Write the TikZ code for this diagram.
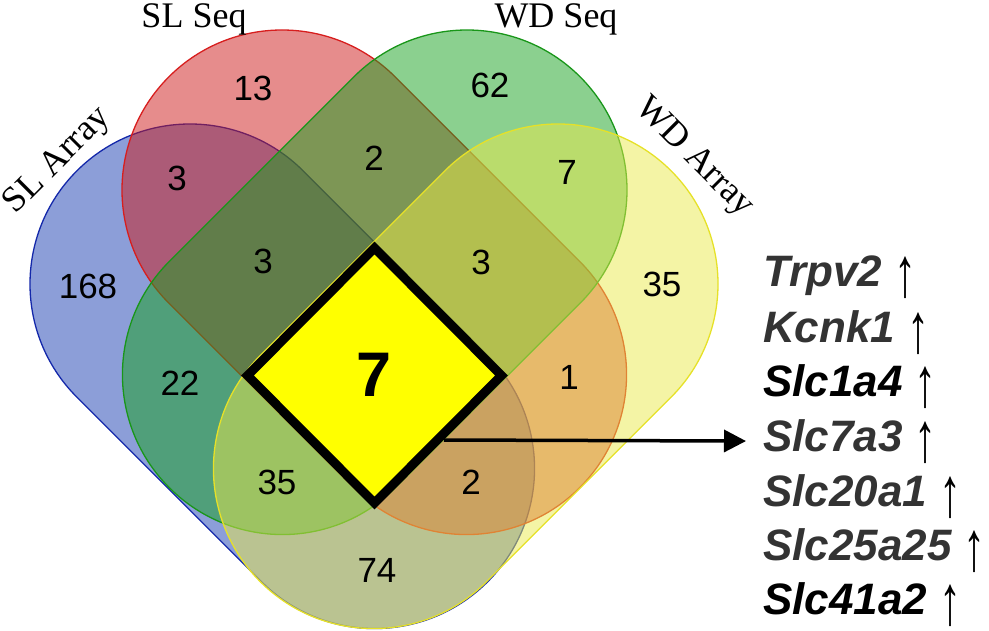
\documentclass[tikz,border=0pt]{standalone}
\usepackage{fontspec}
\usepackage{graphicx}
\setmainfont{Liberation Sans}
\newfontfamily\seriffont{Liberation Serif}
\usetikzlibrary{arrows.meta}
\definecolor{cBlue}{RGB}{25,61,177}
\definecolor{cRed}{RGB}{205,25,25}
\definecolor{cGreen}{RGB}{23,161,31}
\definecolor{cYellow}{RGB}{233,233,75}
\definecolor{eBlue}{RGB}{20,40,170}
\definecolor{eRed}{RGB}{215,30,30}
\definecolor{eGreen}{RGB}{25,150,25}
\definecolor{eYellow}{RGB}{230,225,40}
\definecolor{geneGray}{RGB}{51,51,51}
\definecolor{coreYellow}{RGB}{255,255,0}
\tikzset{
  setshape/.style={fill opacity=0.5, line width=1.3pt},
  num/.style={font=\fontsize{35}{42}\selectfont, inner sep=0pt, text=black},
  setlabel/.style={font=\seriffont\fontsize{36}{43}\selectfont, inner sep=0pt},
  gene/.style={font=\fontsize{44}{50}\selectfont, anchor=base west, inner sep=0pt},
}
\newcommand\upmark{{\color{black}\raisebox{-10pt}{\scalebox{1}[1.6]{↑}}}}
\newcommand\stadiumshape[4]{%
  \begin{scope}[shift={(#1,#2)}, rotate=#3]
    \filldraw[setshape, fill=c#4, draw=e#4]
      (0,160) arc[start angle=90, end angle=270, radius=160pt]
      -- (261,-160) arc[start angle=-90, end angle=90, radius=160pt] -- cycle;
  \end{scope}}
\begin{document}
\begin{tikzpicture}[x=1pt,y=1pt]
\useasboundingbox (0,0) rectangle (989,-631);
% sets
\stadiumshape{190}{-284}{-45}{Blue}
\stadiumshape{282}{-190}{-45}{Red}
\stadiumshape{467}{-190}{-135}{Green}
\stadiumshape{558}{-284}{-135}{Yellow}
% core diamond
\draw[line width=9pt, fill=coreYellow, miter limit=10]
  (374.5,-248) -- (501.5,-375.5) -- (374.5,-503) -- (247.5,-375.5) -- cycle;
\coordinate (arrS) at (444,-440);
% labels
\node[setlabel, anchor=base] (lSLSeq) at (194,-28) {SL Seq};
\node[setlabel, anchor=base] (lWDSeq) at (556,-28) {WD Seq};
\node[setlabel, rotate=45] (lSLArr) at (58,-161) {SL Array};
\node[setlabel, rotate=-45] (lWDArr) at (694,-158) {WD Array};
% numbers
\node[num] (n13) at (253,-88) {13};
\node[num] (n62) at (490,-85) {62};
\node[num] (n3a) at (177,-178) {3};
\node[num] (n2a) at (374,-158) {2};
\node[num] (n7a) at (567,-172) {7};
\node[num] (n168) at (88,-286) {168};
\node[num] (n3b) at (263,-261) {3};
\node[num] (n3c) at (481,-262) {3};
\node[num] (n35a) at (662,-284) {35};
\node[num] (n22) at (180,-383) {22};
\node[num] (n1) at (569,-377) {1};
\node[num] (n35b) at (277,-482) {35};
\node[num] (n2b) at (471,-482) {2};
\node[num] (n74) at (377,-570) {74};
\node[font=\bfseries\fontsize{63}{70}\selectfont, inner sep=0pt] (n7c) at (374,-375) {7};
% genes
\node[gene, text=geneGray] (g1) at (763,-287) {{\bfseries\itshape Trpv2} \upmark};
\node[gene, text=geneGray] (g2) at (763,-342) {{\bfseries\itshape Kcnk1} \upmark};
\node[gene, text=black] (g3) at (763,-396) {{\bfseries\itshape Slc1a4} \upmark};
\node[gene, text=geneGray] (g4) at (763,-451) {{\bfseries\itshape Slc7a3} \upmark};
\node[gene, text=geneGray] (g5) at (763,-506) {{\bfseries\itshape Slc20a1} \upmark};
\node[gene, text=geneGray] (g6) at (763,-560) {{\bfseries\itshape Slc25a25} \upmark};
\node[gene, text=black] (g7) at (763,-614) {{\bfseries\itshape Slc41a2} \upmark};
% arrow
\draw[line width=3.5pt, -{Triangle[length=22pt,width=22pt]}, shorten >=17pt] (arrS) -- (g4.west);
\end{tikzpicture}
\end{document}
